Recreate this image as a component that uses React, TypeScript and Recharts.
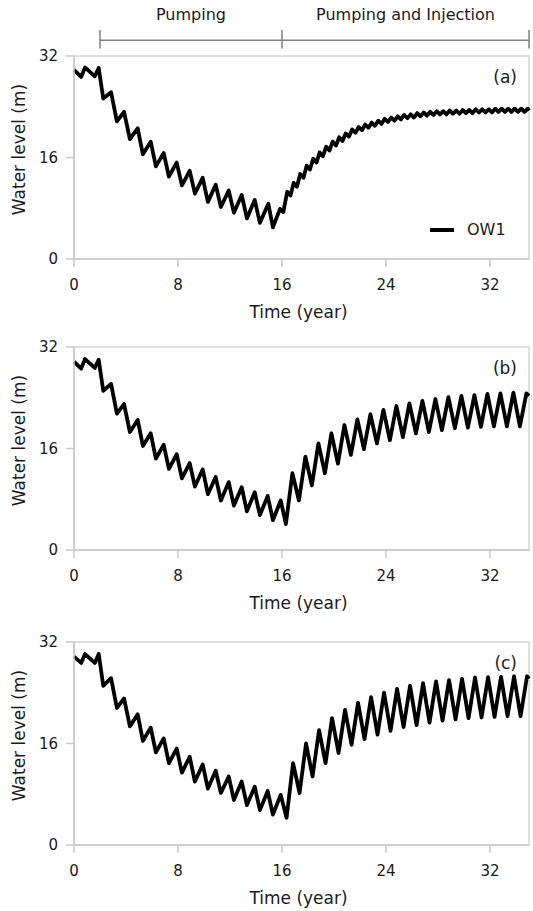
import { LineChart, Line, XAxis, YAxis, ReferenceArea, ReferenceLine, Legend } from "recharts";

const FONT = "'DejaVu Sans', Verdana, sans-serif";
const INK = "#1a1a1a";
const AXIS = "#c8c8c8";

// shared axis ticks
const xTicks = [0, 8, 16, 24, 32];
const yTicks = [0, 16, 32];

// pumping / injection periods shown above panel (a)
const phaseBounds = [2, 16, 35];
const phaseNames = ["Pumping", "Pumping and Injection"];

// panel (a)
const yearsA = [
  0, 0.55, 0.85, 1.6, 1.9, 2.25, 2.85, 3.3, 3.85, 4.3, 4.9, 5.3, 5.9, 6.3, 6.9, 7.3, 7.9, 8.3, 8.9, 9.3,
  9.9, 10.3, 10.9, 11.3, 11.9, 12.3, 12.9, 13.3, 13.9, 14.3, 14.95, 15.3, 15.85,
  16.1, 16.4, 16.65, 16.9, 17.15, 17.4, 17.65, 17.9, 18.15, 18.4, 18.65, 18.9, 19.15, 19.4, 19.65, 19.9,
  20.15, 20.4, 20.65, 20.9, 21.15, 21.4, 21.65, 21.9, 22.15, 22.4, 22.65, 22.9, 23.15, 23.4, 23.65, 23.9,
  24.15, 24.4, 24.65, 24.9, 25.15, 25.4, 25.65, 25.9, 26.15, 26.4, 26.65, 26.9, 27.15, 27.4, 27.65, 27.9,
  28.15, 28.4, 28.65, 28.9, 29.15, 29.4, 29.65, 29.9, 30.15, 30.4, 30.65, 30.9, 31.15, 31.4, 31.65, 31.9,
  32.15, 32.4, 32.65, 32.9, 33.15, 33.4, 33.65, 33.9, 34.15, 34.4, 34.65, 34.9, 35,
];
const levelsA = [
  29.8, 28.7, 30.2, 28.8, 30.1, 25.3, 26.3, 21.7, 23.2, 18.9, 20.6, 16.5, 18.5, 14.6, 16.7, 13.0, 15.2, 11.6, 13.9, 10.3,
  12.8, 9.0, 11.7, 8.2, 10.8, 7.3, 10.1, 6.4, 9.3, 5.7, 8.7, 5.0, 7.9,
  7.4, 10.6, 10.0, 12.0, 11.4, 13.4, 12.8, 14.7, 14.1, 15.8, 15.2, 16.8, 16.2, 17.7, 17.1, 18.5,
  17.9, 19.2, 18.6, 19.8, 19.3, 20.4, 19.9, 20.8, 20.3, 21.2, 20.7, 21.5, 21.0, 21.8, 21.3, 22.1,
  21.6, 22.3, 21.8, 22.5, 22.0, 22.7, 22.2, 22.8, 22.3, 23.0, 22.5, 23.1, 22.6, 23.2, 22.7, 23.3,
  22.8, 23.3, 22.8, 23.4, 22.9, 23.4, 22.9, 23.5, 23.0, 23.5, 23.0, 23.6, 23.1, 23.6, 23.1, 23.6,
  23.1, 23.7, 23.2, 23.7, 23.2, 23.7, 23.2, 23.7, 23.2, 23.7, 23.2, 23.7, 23.4,
];

// panel (b)
const yearsB = [
  0, 0.55, 0.85, 1.6, 1.9, 2.25, 2.85, 3.3, 3.85, 4.3, 4.9, 5.3, 5.9, 6.3, 6.9, 7.3, 7.9, 8.3, 8.9, 9.3,
  9.9, 10.3, 10.9, 11.3, 11.9, 12.3, 12.9, 13.3, 13.9, 14.3, 14.9, 15.3, 15.9,
  16.3, 16.8, 17.3, 17.8, 18.3, 18.8, 19.3, 19.8, 20.3, 20.8, 21.3, 21.8, 22.3, 22.8, 23.3, 23.8,
  24.3, 24.8, 25.3, 25.8, 26.3, 26.8, 27.3, 27.8, 28.3, 28.8, 29.3, 29.8, 30.3, 30.8, 31.3, 31.8,
  32.3, 32.8, 33.3, 33.8, 34.3, 34.8, 35,
];
const levelsB = [
  29.7, 28.6, 30.1, 28.7, 30.0, 25.1, 26.2, 21.5, 23.0, 18.6, 20.5, 16.4, 18.4, 14.4, 16.6, 12.8, 15.1, 11.3, 13.7, 10.0,
  12.7, 8.8, 11.5, 7.8, 10.7, 7.0, 9.9, 6.1, 9.1, 5.5, 8.5, 4.7, 7.8,
  4.1, 12.1, 7.8, 14.7, 10.2, 16.8, 12.1, 18.4, 13.6, 19.7, 15.0, 20.6, 15.9, 21.4, 16.8, 22.1,
  17.3, 22.7, 17.8, 23.1, 18.4, 23.5, 18.6, 23.8, 18.9, 24.1, 19.2, 24.3, 19.3, 24.4, 19.4, 24.6,
  19.5, 24.7, 19.5, 24.8, 19.5, 24.7, 24.3,
];

// panel (c)
const yearsC = [
  0, 0.55, 0.85, 1.6, 1.9, 2.25, 2.85, 3.3, 3.85, 4.3, 4.9, 5.3, 5.9, 6.3, 6.9, 7.3, 7.9, 8.3, 8.9, 9.3,
  9.9, 10.3, 10.9, 11.3, 11.9, 12.3, 12.9, 13.3, 13.9, 14.3, 14.9, 15.3, 15.9,
  16.35, 16.85, 17.35, 17.85, 18.35, 18.85, 19.35, 19.85, 20.35, 20.85, 21.35, 21.85, 22.35, 22.85, 23.35, 23.85,
  24.35, 24.85, 25.35, 25.85, 26.35, 26.85, 27.35, 27.85, 28.35, 28.85, 29.35, 29.85, 30.35, 30.85, 31.35, 31.85,
  32.35, 32.85, 33.35, 33.85, 34.35, 34.85, 35,
];
const levelsC = [
  29.7, 28.7, 30.1, 28.7, 30.1, 25.1, 26.3, 21.6, 23.1, 18.7, 20.6, 16.4, 18.5, 14.6, 16.8, 12.9, 15.2, 11.4, 13.9, 10.0,
  12.7, 8.9, 11.7, 8.2, 10.8, 7.1, 10.0, 6.3, 9.2, 5.5, 8.5, 4.8, 7.9,
  4.3, 12.9, 8.2, 16.0, 10.8, 18.1, 12.9, 20.0, 14.5, 21.3, 15.8, 22.4, 16.7, 23.3, 17.4, 24.0,
  18.0, 24.6, 18.6, 25.1, 18.9, 25.5, 19.3, 25.8, 19.6, 26.0, 19.8, 26.2, 20.0, 26.4, 20.1, 26.45,
  20.2, 26.5, 20.3, 26.6, 20.3, 26.6, 26.2,
];

const toRows = (years: number[], levels: number[]) => years.map((t, i) => ({ t, v: levels[i] }));

const PLOT_H = 203;
const AXIS_H = 70;

const LegendBox = ({ payload }: any) => (
  <div style={{ display: "flex", alignItems: "center", fontFamily: FONT, fontSize: 16, color: INK, lineHeight: "19px" }}>
    <svg width={24} height={6} style={{ display: "block" }}>
      <line x1={0} y1={3} x2={24} y2={3} stroke="#000" strokeWidth={4} />
    </svg>
    <span style={{ marginLeft: 13 }}>{payload && payload[0] ? payload[0].value : "OW1"}</span>
  </div>
);

interface PanelProps {
  rows: { t: number; v: number }[];
  tag: string;
  top: number;
  marginTop: number;
  withLegend?: boolean;
  withPhases?: boolean;
}

const Panel = ({ rows, tag, top, marginTop, withLegend, withPhases }: PanelProps) => (
  <div style={{ position: "absolute", left: 0, top }}>
    <LineChart
      width={533}
      height={marginTop + PLOT_H + AXIS_H}
      data={rows}
      margin={{ top: marginTop, right: 4, bottom: 0, left: 0 }}
    >
      <XAxis
        dataKey="t"
        type="number"
        domain={[0, 35]}
        ticks={xTicks}
        height={AXIS_H}
        tickSize={8}
        tickMargin={12}
        axisLine={{ stroke: AXIS, strokeWidth: 1.5 }}
        tickLine={{ stroke: AXIS, strokeWidth: 1.5 }}
        tick={{ fill: INK, fontSize: 15, fontFamily: FONT }}
        label={(p: any) => (
          <text
            x={p.viewBox.x + p.viewBox.width / 2 - 3}
            y={p.viewBox.y + 59}
            textAnchor="middle"
            fill={INK}
            fontSize={17}
            fontFamily={FONT}
          >
            Time (year)
          </text>
        )}
      />
      <YAxis
        type="number"
        domain={[0, 32]}
        ticks={yTicks}
        width={74}
        tickSize={8}
        tickMargin={8}
        axisLine={{ stroke: AXIS, strokeWidth: 1.5 }}
        tickLine={{ stroke: AXIS, strokeWidth: 1.5 }}
        tick={{ fill: INK, fontSize: 15, fontFamily: FONT }}
        label={(p: any) => {
          const cx = p.viewBox.x + 19;
          const cy = p.viewBox.y + p.viewBox.height / 2 - 8;
          return (
            <text
              x={cx}
              y={cy}
              transform={`rotate(-90, ${cx}, ${cy})`}
              textAnchor="middle"
              dominantBaseline="central"
              fill={INK}
              fontSize={17}
              fontFamily={FONT}
            >
              Water level (m)
            </text>
          );
        }}
      />
      <ReferenceArea
        x1={0}
        x2={35}
        y1={0}
        y2={32}
        fill="none"
        stroke="#d6d6d6"
        strokeWidth={1.5}
        ifOverflow="visible"
        label={(p: any) => (
          <text
            x={p.viewBox.x + p.viewBox.width - 12}
            y={p.viewBox.y + 27}
            textAnchor="end"
            fill={INK}
            fontSize={17}
            fontFamily={FONT}
          >
            {tag}
          </text>
        )}
      />
      {withPhases && (
        <ReferenceLine
          segment={[
            { x: phaseBounds[0], y: 34.5 },
            { x: phaseBounds[phaseBounds.length - 1], y: 34.5 },
          ]}
          stroke="#808080"
          strokeWidth={1.5}
          ifOverflow="visible"
        />
      )}
      {withPhases &&
        phaseBounds.map((b) => (
          <ReferenceLine
            key={`tick-${b}`}
            segment={[
              { x: b, y: 33.2 },
              { x: b, y: 36.1 },
            ]}
            stroke="#808080"
            strokeWidth={1.5}
            ifOverflow="visible"
          />
        ))}
      {withPhases &&
        phaseNames.map((name, i) => (
          <ReferenceArea
            key={name}
            x1={phaseBounds[i]}
            x2={phaseBounds[i + 1]}
            y1={37}
            y2={40}
            fill="none"
            stroke="none"
            ifOverflow="visible"
            label={{ value: name, position: "center", fill: INK, fontSize: 16, fontFamily: FONT }}
          />
        ))}
      {withLegend && (
        <Legend
          layout="horizontal"
          verticalAlign="middle"
          align="center"
          wrapperStyle={{ left: 430, top: 220, width: "auto", height: "auto" }}
          content={<LegendBox />}
        />
      )}
      <Line
        type="linear"
        dataKey="v"
        name="OW1"
        stroke="#000"
        strokeWidth={3.8}
        strokeLinejoin="round"
        dot={false}
        activeDot={false}
        isAnimationActive={false}
      />
    </LineChart>
  </div>
);

export default function App() {
  return (
    <div
      style={{
        position: "absolute",
        left: 0,
        top: 0,
        width: 533,
        height: 911,
        overflow: "hidden",
        background: "#fff",
      }}
    >
      <Panel rows={toRows(yearsA, levelsA)} tag="(a)" top={0} marginTop={56} withLegend withPhases />
      <Panel rows={toRows(yearsB, levelsB)} tag="(b)" top={337} marginTop={10} />
      <Panel rows={toRows(yearsC, levelsC)} tag="(c)" top={632} marginTop={10} />
    </div>
  );
}
